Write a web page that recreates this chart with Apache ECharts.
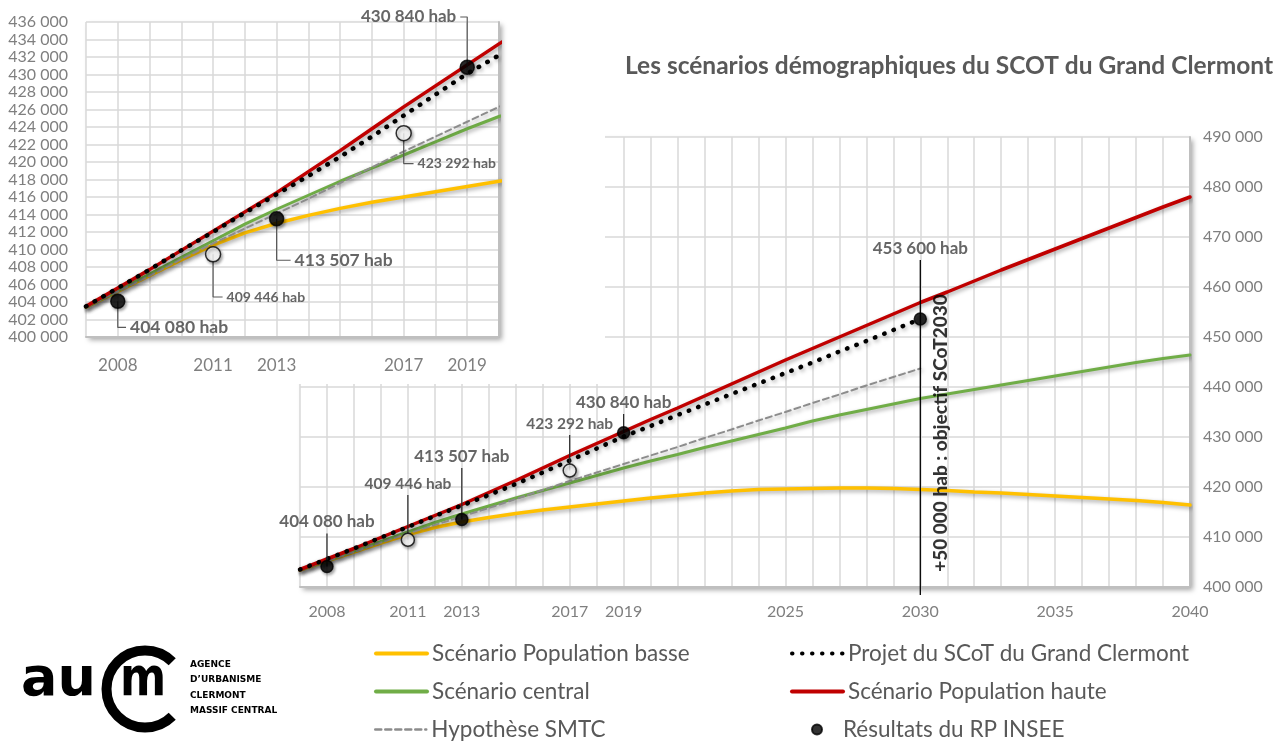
<!DOCTYPE html>
<html>
<head>
<meta charset="utf-8">
<title>Scénarios démographiques SCOT Grand Clermont</title>
<script src="https://cdn.jsdelivr.net/npm/echarts@6/dist/echarts.min.js"></script>
<style>
  html, body { margin: 0; padding: 0; background: #fff; }
  #chart { width: 1277px; height: 744px; }
</style>
</head>
<body>
<div id="chart"></div>
<script>
// --- data ---
var years = [2007, 2008, 2009, 2010, 2011, 2012, 2013, 2014, 2015, 2016, 2017, 2018, 2019, 2020,
             2021, 2022, 2023, 2024, 2025, 2026, 2027, 2028, 2029, 2030,
             2031, 2032, 2033, 2034, 2035, 2036, 2037, 2038, 2039, 2040];
var basse = [403400, 405200, 407000, 408800, 410500, 411900, 413000, 413900, 414700, 415400, 416000, 416600, 417200, 417800,
             418300, 418800, 419200, 419500, 419600, 419700, 419800, 419800, 419700, 419500,
             419300, 419000, 418800, 418500, 418200, 417900, 417600, 417300, 416900, 416400];
var central = [403400, 405300, 407200, 409100, 411000, 412900, 414600, 416200, 417800, 419300, 420800, 422300, 423800, 425200,
               426500, 427900, 429200, 430500, 431800, 433200, 434400, 435500, 436600, 437700,
               438600, 439500, 440400, 441300, 442200, 443100, 444000, 444900, 445700, 446400];
var haute = [403500, 405600, 407700, 409900, 412100, 414300, 416500, 418900, 421300, 423800, 426300, 428700, 431100, 433500,
             435800, 438200, 440600, 443000, 445400, 447700, 450000, 452300, 454600, 456900,
             459000, 461200, 463400, 465500, 467600, 469700, 471800, 473900, 476000, 478000];
// 2007 -> 2030 only
var projet = [403500, 405600, 407700, 409900, 412000, 414200, 416300, 418400, 420600, 422900, 425300, 427700, 430100, 432200,
              434400, 436500, 438600, 440700, 442800, 444900, 447100, 449200, 451400, 453600];
var smtc = [403400, 405200, 407000, 408900, 410700, 412400, 414100, 415800, 417600, 419400, 421200, 422900, 424600, 426300,
            428000, 429800, 431500, 433300, 435000, 436800, 438500, 440300, 442000, 443700];

var inseeYears = [2008, 2013, 2019, 2030];
var inseeValues = [404080, 413507, 430840, 453600];
var smtcPointYears = [2011, 2017];
var smtcPointValues = [409446, 423292];

var mainYearLabels = [2008, 2011, 2013, 2017, 2019, 2025, 2030, 2035, 2040];
var insetYearLabels = [2008, 2011, 2013, 2017, 2019];

var names = {
  basse: 'Scénario Population basse',
  central: 'Scénario central',
  smtc: 'Hypothèse SMTC',
  projet: 'Projet du SCoT du Grand Clermont',
  haute: 'Scénario Population haute',
  insee: 'Résultats du RP INSEE'
};

// --- annotation placement (leader end points, in axis units) ---
var insetNotes = [
  { x: 2019, y: 430840, ex: 2018.78, ey: 436570, side: 'left', size: 17 },
  { x: 2017, y: 423292, ex: 2017.31, ey: 419820, side: 'right', size: 14 },
  { x: 2013, y: 413507, ex: 2013.44, ey: 408770, side: 'right', size: 17.5 },
  { x: 2011, y: 409446, ex: 2011.30, ey: 404570, side: 'right', size: 14 },
  { x: 2008, y: 404080, ex: 2008.26, ey: 401100, side: 'right', size: 17.5 }
];
var mainNotes = [
  { x: 2008, y: 404080, top: 410700, size: 17 },
  { x: 2011, y: 409446, top: 418400, size: 15.5 },
  { x: 2013, y: 413507, top: 423800, size: 17 },
  { x: 2017, y: 423292, top: 430400, size: 15.5 },
  { x: 2019, y: 430840, top: 434600, size: 17 },
  { x: 2030, y: 453600, top: 465400, size: 17, from: 398400 }
];

var FONT = 'Lato';
var GRID_LINE = '#d9d9d9';
var TICK_GREY = '#7f7f7f';
var NOTE = '#404040';

function spaced(v) {
  return String(v).replace(/\B(?=(\d{3})+(?!\d))/g, ' ');
}

function pairs(vals) {
  return vals.map(function (v, i) { return [years[i], v]; });
}

var shadow = { shadowColor: 'rgba(0,0,0,0.35)', shadowBlur: 4, shadowOffsetX: 1.5, shadowOffsetY: 2 };

function line(name, vals, color, width, type, g, z) {
  var ls = { color: color, width: width, type: type, cap: 'round' };
  for (var k in shadow) ls[k] = shadow[k];
  return {
    name: name, type: 'line', xAxisIndex: g, yAxisIndex: g,
    data: pairs(vals), symbol: 'none', smooth: false,
    itemStyle: { color: color }, lineStyle: ls, z: z, silent: true
  };
}

function dots(name, xs, ys, fill, border, size, g, z) {
  return {
    name: name, type: 'scatter', xAxisIndex: g, yAxisIndex: g,
    data: xs.map(function (x, i) { return [x, ys[i]]; }),
    symbol: 'circle', symbolSize: size,
    itemStyle: { color: fill, borderColor: border, borderWidth: 1.5,
                 shadowColor: 'rgba(0,0,0,0.4)', shadowBlur: 3, shadowOffsetX: 1.5, shadowOffsetY: 2 },
    z: z, silent: true
  };
}

function leader(points, g, color, width, z) {
  return {
    type: 'line', xAxisIndex: g, yAxisIndex: g, data: points, symbol: 'none',
    lineStyle: { color: color, width: width }, clip: false, silent: true, z: z
  };
}

var series = [];

// main chart (grid 0)
series.push(line(names.basse, basse, '#ffc000', 3.5, 'solid', 0, 3));
series.push(line(names.central, central, '#70ad47', 3, 'solid', 0, 3));
series.push(line(names.smtc, smtc, '#8c8c8c', 2, [6, 4], 0, 3));
series.push(line(names.haute, haute, '#c00000', 3.5, 'solid', 0, 3));
series.push(line(names.projet, projet, '#000000', 4.5, [0.5, 9.5], 0, 4));
series.push(dots('Estimations', smtcPointYears, smtcPointValues, '#ffffff', '#000000', 13, 0, 5));
series.push(dots(names.insee, inseeYears, inseeValues, '#000000', '#000000', 12, 0, 5));

mainNotes.forEach(function (n) {
  var start = n.from !== undefined ? n.from : n.y;
  series.push(leader([[n.x, start], [n.x, n.top]], 0, n.from !== undefined ? '#000' : '#262626',
                     n.from !== undefined ? 1.3 : 1.2, 4));
});
series.push({
  type: 'scatter', xAxisIndex: 0, yAxisIndex: 0, symbolSize: 0, clip: false, silent: true, z: 6,
  data: mainNotes.map(function (n) {
    return {
      value: [n.x, n.top],
      label: { show: true, position: 'top', distance: 3, formatter: spaced(n.y) + ' hab',
               fontFamily: FONT, fontWeight: 'bold', fontSize: n.size, color: NOTE }
    };
  })
});
series.push({
  type: 'scatter', xAxisIndex: 0, yAxisIndex: 0, symbolSize: 0, silent: true, z: 6,
  data: [{
    value: [2030, 430800],
    label: { show: true, position: 'inside', offset: [0, 21], rotate: 90,
             formatter: '+50 000 hab : objectif SCoT2030',
             fontFamily: FONT, fontWeight: 900, fontSize: 19, color: '#000' }
  }]
});

// inset (grid 1)
series.push(line(names.basse, basse, '#ffc000', 3.5, 'solid', 1, 13));
series.push(line(names.central, central, '#70ad47', 3, 'solid', 1, 13));
series.push(line(names.smtc, smtc, '#8c8c8c', 2, [6, 4], 1, 13));
series.push(line(names.haute, haute, '#c00000', 3.5, 'solid', 1, 13));
series.push(line(names.projet, projet, '#000000', 4.5, [0.5, 9.5], 1, 14));
insetNotes.forEach(function (n) {
  series.push(leader([[n.x, n.y], [n.x, n.ey], [n.ex, n.ey]], 1, '#595959', 1.2, 14));
});
series.push(dots('Estimations', smtcPointYears, smtcPointValues, '#ffffff', '#000000', 15, 1, 15));
series.push(dots(names.insee, inseeYears, inseeValues, '#000000', '#000000', 14, 1, 15));
series.push({
  type: 'scatter', xAxisIndex: 1, yAxisIndex: 1, symbolSize: 0, clip: false, silent: true, z: 16,
  data: insetNotes.map(function (n) {
    return {
      value: [n.ex, n.ey],
      label: { show: true, position: n.side, distance: 4, formatter: spaced(n.y) + ' hab',
               fontFamily: FONT, fontWeight: 'bold', fontSize: n.size, color: NOTE }
    };
  })
});

function yearAxis(g, min, max, shown, fontSize, margin, z) {
  return {
    type: 'value', gridIndex: g, min: min, max: max, interval: 1, z: z,
    axisLine: { show: true, lineStyle: { color: '#bfbfbf', width: 2 } },
    axisTick: { show: false },
    splitLine: { show: true, lineStyle: { color: GRID_LINE, width: 1.5 } },
    axisLabel: {
      margin: margin, fontFamily: FONT, fontSize: fontSize, color: TICK_GREY, showMinLabel: true, showMaxLabel: true,
      formatter: function (v) { return shown.indexOf(v) >= 0 ? String(v) : ''; }
    }
  };
}

function popAxis(g, min, max, interval, pos, fontSize, margin, z) {
  return {
    type: 'value', gridIndex: g, position: pos, min: min, max: max, interval: interval, z: z,
    axisLine: { show: pos === 'right', lineStyle: { color: '#bfbfbf', width: 2 } },
    axisTick: { show: false },
    splitLine: { show: true, lineStyle: { color: GRID_LINE, width: 1.5 } },
    axisLabel: { margin: margin, fontFamily: FONT, fontSize: fontSize, color: TICK_GREY, formatter: spaced }
  };
}

var insetRightBorder = {
  type: 'value', gridIndex: 1, position: 'right', min: 400000, max: 436000, z: 12,
  axisLine: { show: true, lineStyle: { color: '#bfbfbf', width: 2 } },
  axisTick: { show: false }, splitLine: { show: false }, axisLabel: { show: false }
};

var plotShadow = {
  show: true, backgroundColor: '#fff', borderWidth: 0,
  shadowColor: 'rgba(0,0,0,0.35)', shadowBlur: 5, shadowOffsetX: 3, shadowOffsetY: 3
};

// one legend per entry, laid out as in the picture (2 columns x 3 rows)
var legendCells = [
  { name: names.basse, left: 374, row: 0 },
  { name: names.central, left: 374, row: 1 },
  { name: names.smtc, left: 374, row: 2 },
  { name: names.projet, left: 790, row: 0 },
  { name: names.haute, left: 790, row: 1 },
  { name: names.insee, left: 811, row: 2, dot: true }
];
var rowCenters = [655, 693, 731];
var legends = legendCells.map(function (c) {
  var text = { fontFamily: FONT, fontSize: 22.5, color: '#595959' };
  if (c.dot) text.padding = [0, 0, 0, 16];
  return {
    left: c.left, top: rowCenters[c.row] - 13, padding: 0, orient: 'horizontal',
    itemWidth: c.dot ? 10 : 51, itemHeight: c.dot ? 11 : 12, selectedMode: false,
    itemStyle: c.dot ? { shadowBlur: 0, shadowOffsetX: 0, shadowOffsetY: 0 } : { opacity: 0 },
    lineStyle: c.dot ? {} : { width: c.name === names.smtc ? 2.5 : 4, shadowBlur: 0, shadowOffsetX: 0, shadowOffsetY: 0 },
    textStyle: text,
    data: [c.name]
  };
});

var option = {
  animation: false,
  backgroundColor: '#fff',
  textStyle: { fontFamily: FONT },
  title: {
    text: 'Les scénarios démographiques du SCOT du Grand Clermont',
    left: 620, top: 49,
    textStyle: { fontFamily: FONT, fontWeight: 'bold', fontSize: 24.5, color: '#595959' }
  },
  grid: [
    Object.assign({ left: 300, top: 137, width: 890, height: 450, z: 0 }, plotShadow),
    Object.assign({ left: 86, top: 22, width: 413, height: 315, z: 11 }, plotShadow)
  ],
  xAxis: [
    yearAxis(0, 2007, 2040, mainYearLabels, 16, 17, 1),
    yearAxis(1, 2007, 2020, insetYearLabels, 17, 20, 12)
  ],
  yAxis: [
    popAxis(0, 400000, 490000, 10000, 'right', 16, 13, 1),
    popAxis(1, 400000, 436000, 2000, 'left', 16, 18, 12),
    insetRightBorder
  ],
  legend: legends,
  graphic: {
    elements: [
      // white box of the zoomed inset, hides the main grid behind it
      { type: 'rect', left: 0, top: 0, shape: { width: 605, height: 384 }, style: { fill: '#fff' }, z: 10 },
      // logo
      { type: 'text', left: 21, top: 654, z: 20,
        style: { text: 'au', font: 'bold 54px "DejaVu Sans"', fill: '#000' } },
      { type: 'arc', z: 20,
        shape: { cx: 145, cy: 689, r: 38.5, startAngle: Math.PI * 0.25, endAngle: Math.PI * 1.75, clockwise: true },
        style: { stroke: '#000', lineWidth: 10, fill: null } },
      { type: 'text', left: 120, top: 654, z: 20, scaleX: 0.82,
        style: { text: 'm', font: 'bold 54px "DejaVu Sans"', fill: '#000' } },
      { type: 'text', left: 190, top: 657, z: 20,
        style: { text: 'AGENCE\nD\u2019URBANISME\nCLERMONT\nMASSIF CENTRAL', font: 'bold 9px "DejaVu Sans"',
                 lineHeight: 15.3, fill: '#000' } }
    ]
  },
  series: series
};

var chart = echarts.init(document.getElementById('chart'), null, { renderer: 'canvas' });
chart.setOption(option);
</script>
</body>
</html>
